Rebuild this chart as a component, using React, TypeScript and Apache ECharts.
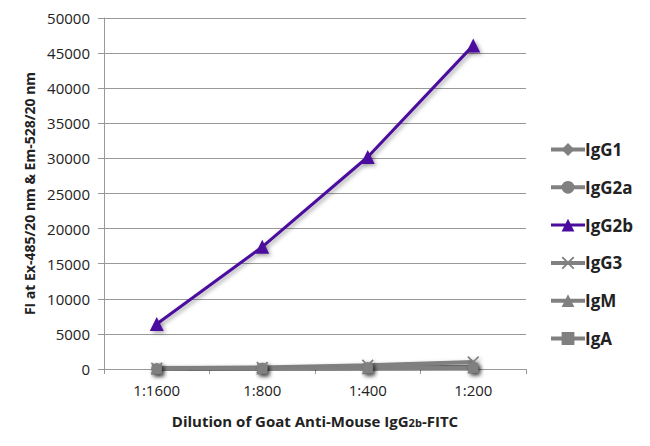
import React, { useEffect, useRef } from "react";
import * as echarts from "echarts";

const categories = ["1:1600", "1:800", "1:400", "1:200"];
const seriesNames = ["IgG1", "IgG2a", "IgG2b", "IgG3", "IgM", "IgA"];
const igG1 = [60, 110, 220, 320];
const igG2a = [50, 90, 170, 260];
const igG2b = [6400, 17400, 30200, 46100];
const igG3 = [120, 220, 520, 1000];
const igM = [30, 60, 110, 200];
const igA = [40, 70, 130, 160];
const yTicks = { min: 0, max: 50000, interval: 5000 };

const GRAY = "#808080";
const PURPLE = "#4b0c9e";
const CROSS = "path://M0,1L1,0L5,4L9,0L10,1L6,5L10,9L9,10L5,6L1,10L0,9L4,5Z";

export default function App() {
  const ref = useRef<HTMLDivElement>(null);
  useEffect(() => {
    if (!ref.current) return;
    const chart = echarts.init(ref.current, null, { renderer: "svg" });
    const font = "'Open Sans', 'Noto Sans', sans-serif";
    const shadow = {
      shadowBlur: 4,
      shadowColor: "rgba(0,0,0,0.35)",
      shadowOffsetX: 2,
      shadowOffsetY: 2,
    };
    const mk = (name: string, data: number[], symbol: string, size: number, color: string, width: number) => ({
      name,
      type: "line",
      data,
      symbol,
      symbolSize: size,
      showSymbol: true,
      lineStyle: { color, width, ...shadow },
      itemStyle: { color, ...shadow },
      z: color === PURPLE ? 3 : 2,
    });
    chart.setOption({
      animation: false,
      textStyle: { fontFamily: font },
      grid: { left: 104, right: 124, top: 18, bottom: 77 },
      legend: {
        orient: "vertical",
        left: 549,
        top: 141,
        padding: 0,
        itemWidth: 34,
        itemHeight: 16,
        itemGap: 20.8,
        data: seriesNames.map((n) => ({
          name: n,
          lineStyle: { width: n === "IgG2b" ? 3 : 4 },
        })),
        textStyle: { fontFamily: font, fontSize: 17, fontWeight: "bold", color: "#222", padding: [0, 0, 0, -5] },
      },
      xAxis: {
        type: "category",
        data: categories,
        boundaryGap: true,
        axisLine: { lineStyle: { color: "#999", width: 1 } },
        axisTick: { show: true, length: 5, lineStyle: { color: "#999" } },
        axisLabel: { fontSize: 15, color: "#222", margin: 13, fontFamily: font },
        name: "{a|Dilution of Goat Anti-Mouse IgG}{b|2b}{a|-FITC}",
        nameLocation: "middle",
        nameGap: 44,
        nameTextStyle: {
          rich: {
            a: { fontSize: 15, fontWeight: "bold", color: "#222", fontFamily: font },
            b: { fontSize: 11, fontWeight: "bold", color: "#222", fontFamily: font, padding: [3, 0, 0, 0] },
          },
        },
      },
      yAxis: {
        type: "value",
        min: yTicks.min,
        max: yTicks.max,
        interval: yTicks.interval,
        axisLine: { show: true, lineStyle: { color: "#999", width: 1 } },
        axisTick: { show: true, length: 6, lineStyle: { color: "#999" } },
        splitLine: { lineStyle: { color: "#999", width: 1 } },
        axisLabel: { fontSize: 15, color: "#222", margin: 14, fontFamily: font, formatter: (v: number) => String(v) },
        name: "FI at Ex-485/20 nm & Em-528/20 nm",
        nameLocation: "middle",
        nameGap: 68,
        nameTextStyle: { fontSize: 14, fontWeight: "bold", color: "#222", fontFamily: font },
      },
      series: [
        mk("IgG2b", igG2b, "triangle", 14, PURPLE, 3),
        mk("IgG1", igG1, "diamond", 10, GRAY, 4),
        mk("IgG2a", igG2a, "circle", 11, GRAY, 4),
        mk("IgG3", igG3, CROSS, 12, GRAY, 4),
        mk("IgM", igM, "triangle", 12, GRAY, 4),
        mk("IgA", igA, "rect", 10, GRAY, 4),
      ],
    });
    return () => chart.dispose();
  }, []);
  return <div ref={ref} style={{ width: 650, height: 446, margin: -8 }} />;
}
